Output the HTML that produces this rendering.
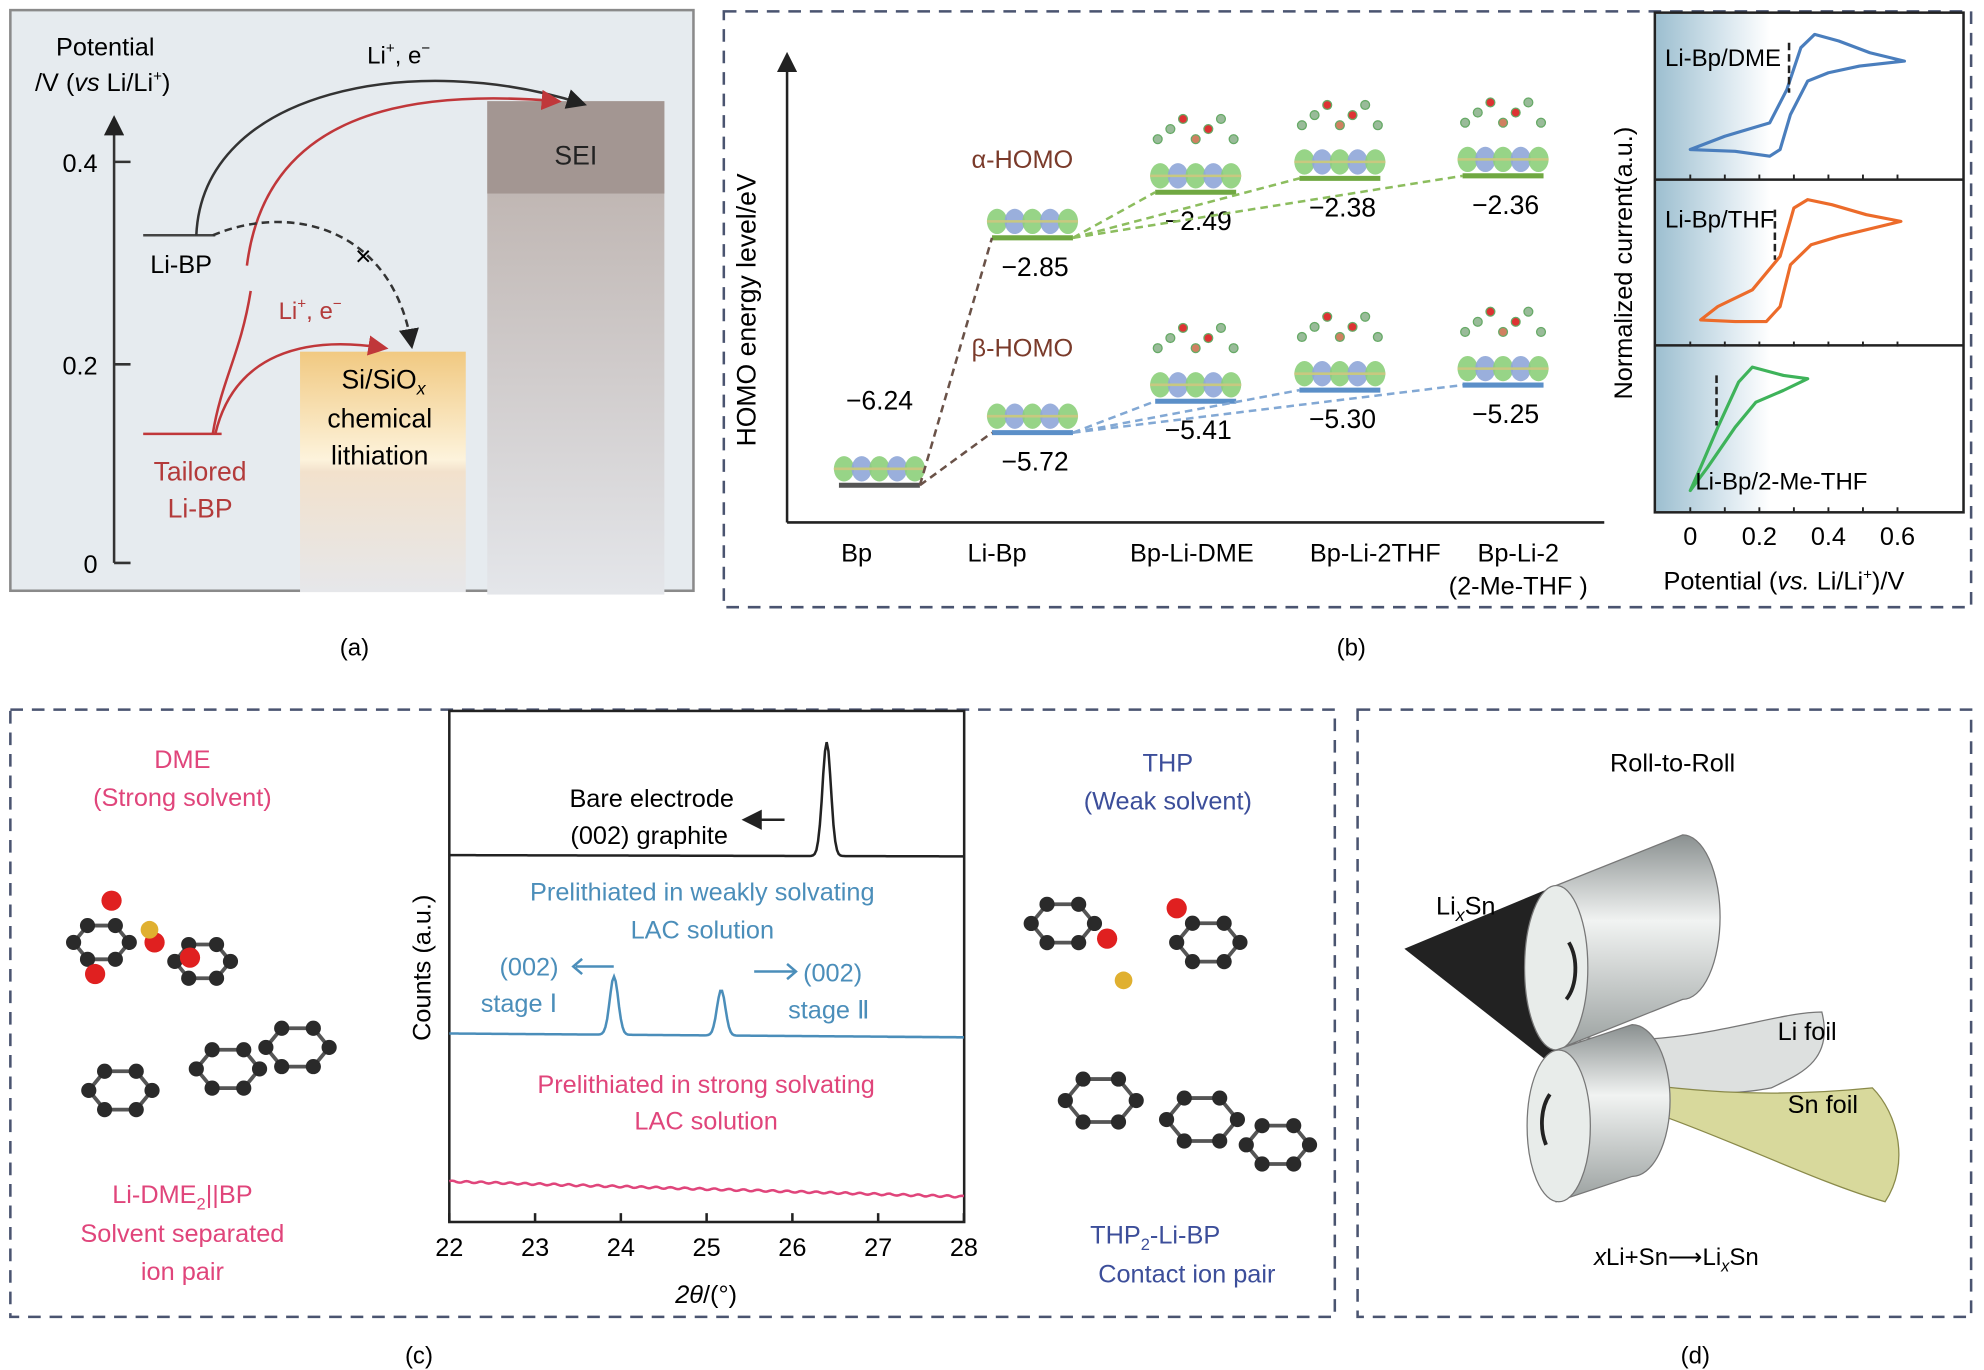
<!DOCTYPE html>
<html><head><meta charset="utf-8"><style>
html,body{margin:0;padding:0;background:#fff}
svg{display:block}
text{font-family:"Liberation Sans",sans-serif}
</style></head><body>
<svg width="1984" height="1370" viewBox="0 0 1568 1083" xmlns="http://www.w3.org/2000/svg">
<defs>
<linearGradient id="gSEI" x1="0" y1="0" x2="0" y2="1"><stop offset="0" stop-color="#b8aca7"/><stop offset="1" stop-color="#e4e6ea"/></linearGradient>
<linearGradient id="gSi" x1="0" y1="0" x2="0" y2="1"><stop offset="0" stop-color="#f1c981"/><stop offset="0.45" stop-color="#fdf3dc"/><stop offset="0.5" stop-color="#f2e1cc"/><stop offset="1" stop-color="#e6e7ea"/></linearGradient>
<linearGradient id="gCV" x1="0" y1="0" x2="1" y2="0"><stop offset="0" stop-color="#9dbfd0"/><stop offset="0.6" stop-color="#d8e6ee"/><stop offset="1" stop-color="#ffffff"/></linearGradient>
<linearGradient id="gRoll" x1="0" y1="0" x2="0" y2="1"><stop offset="0" stop-color="#8a9090"/><stop offset="0.4" stop-color="#f1f3f2"/><stop offset="1" stop-color="#9aa09f"/></linearGradient>
<marker id="arB" markerWidth="8" markerHeight="8" refX="6" refY="4" orient="auto"><path d="M0,0L8,4L0,8z" fill="#222"/></marker>
<marker id="arR" markerWidth="8" markerHeight="8" refX="6" refY="4" orient="auto"><path d="M0,0L8,4L0,8z" fill="#c0373a"/></marker>
</defs>

<!-- Panel a -->
<g>
<rect x="8" y="8" width="540" height="459" fill="#e6ebef" stroke="#8a8a8a" stroke-width="2"/>
<rect x="385" y="80" width="140" height="390" fill="url(#gSEI)"/>
<rect x="385" y="80" width="140" height="73" fill="#a39692"/>
<text x="455" y="130" font-size="21" text-anchor="middle" fill="#222">SEI</text>
<rect x="237" y="278" width="131" height="190" fill="url(#gSi)"/>
<text x="303" y="307" font-size="21" text-anchor="middle">Si/SiO<tspan font-style="italic" font-size="14" dy="5">x</tspan></text>
<text x="300" y="338" font-size="21" text-anchor="middle">chemical</text>
<text x="300" y="367" font-size="21" text-anchor="middle">lithiation</text>
<text x="83" y="44" font-size="20" text-anchor="middle">Potential</text>
<text x="81" y="72" font-size="20" text-anchor="middle">/V (<tspan font-style="italic">vs</tspan> Li/Li<tspan font-size="12" dy="-8">+</tspan><tspan dy="8">)</tspan></text>
<line x1="90" y1="445" x2="90" y2="95" stroke="#333" stroke-width="2" marker-end="url(#arB)"/>
<g stroke="#333" stroke-width="2"><line x1="90" y1="128" x2="103" y2="128"/><line x1="90" y1="288" x2="103" y2="288"/><line x1="90" y1="445" x2="103" y2="445"/></g>
<text x="77" y="136" font-size="20" text-anchor="end">0.4</text>
<text x="77" y="296" font-size="20" text-anchor="end">0.2</text>
<text x="77" y="453" font-size="20" text-anchor="end">0</text>
<line x1="113" y1="186" x2="170" y2="186" stroke="#444" stroke-width="2"/>
<text x="143" y="216" font-size="20" text-anchor="middle">Li-BP</text>
<line x1="113" y1="343" x2="175" y2="343" stroke="#c0373a" stroke-width="2"/>
<text x="158" y="380" font-size="21" text-anchor="middle" fill="#b33a3a">Tailored</text>
<text x="158" y="409" font-size="21" text-anchor="middle" fill="#b33a3a">Li-BP</text>
<path d="M155,186 C160,70 330,40 460,82" fill="none" stroke="#333" stroke-width="2" marker-end="url(#arB)"/>
<text x="315" y="50" font-size="19" text-anchor="middle">Li<tspan font-size="12" dy="-8">+</tspan><tspan dy="8">, e</tspan><tspan font-size="12" dy="-8">−</tspan></text>
<path d="M195,210 C210,90 320,70 440,80" fill="none" stroke="#c0373a" stroke-width="2" marker-end="url(#arR)"/>
<path d="M168,343 C175,300 190,280 198,230" fill="none" stroke="#c0373a" stroke-width="2"/>
<path d="M170,343 C185,280 240,265 303,275" fill="none" stroke="#c0373a" stroke-width="2" marker-end="url(#arR)"/>
<text x="245" y="252" font-size="19" text-anchor="middle" fill="#b33a3a">Li<tspan font-size="12" dy="-8">+</tspan><tspan dy="8">, e</tspan><tspan font-size="12" dy="-8">−</tspan></text>
<path d="M168,186 C230,160 310,180 325,272" fill="none" stroke="#333" stroke-width="2" stroke-dasharray="6,4" marker-end="url(#arB)"/>
<text x="287" y="210" font-size="22" text-anchor="middle">×</text>
</g>
<text x="280" y="518" font-size="19" text-anchor="middle">(a)</text>

<!-- Panel b -->
<g>
<rect x="572" y="9" width="986" height="471" fill="none" stroke="#4a5470" stroke-width="2" stroke-dasharray="10,7"/>
<line x1="622" y1="413" x2="622" y2="45" stroke="#222" stroke-width="2" marker-end="url(#arB)"/>
<line x1="622" y1="413" x2="1268" y2="413" stroke="#222" stroke-width="2"/>
<text transform="translate(597,245) rotate(-90)" font-size="21" text-anchor="middle">HOMO energy level/eV</text>
<text x="677" y="444" font-size="20" text-anchor="middle">Bp</text>
<text x="788" y="444" font-size="20" text-anchor="middle">Li-Bp</text>
<text x="942" y="444" font-size="20" text-anchor="middle">Bp-Li-DME</text>
<text x="1087" y="444" font-size="20" text-anchor="middle">Bp-Li-2THF</text>
<text x="1200" y="444" font-size="20" text-anchor="middle">Bp-Li-2</text>
<text x="1200" y="470" font-size="20" text-anchor="middle">(2-Me-THF )</text>
<text x="808" y="133" font-size="20" text-anchor="middle" fill="#7a3a2a">α-HOMO</text>
<text x="808" y="282" font-size="20" text-anchor="middle" fill="#7a3a2a">β-HOMO</text>
<g id="homo"></g>
<!-- CV -->
<rect x="1309" y="11" width="90" height="393" fill="url(#gCV)"/>
<rect x="1308" y="10" width="244" height="395" fill="none" stroke="#222" stroke-width="2"/>
<line x1="1308" y1="142" x2="1552" y2="142" stroke="#222" stroke-width="2"/>
<line x1="1308" y1="273" x2="1552" y2="273" stroke="#222" stroke-width="2"/>
<g id="cv"></g>
<text x="1316" y="52" font-size="19">Li-Bp/DME</text>
<text x="1316" y="180" font-size="19">Li-Bp/THF</text>
<text x="1340" y="387" font-size="19">Li-Bp/2-Me-THF</text>
<text transform="translate(1290,208) rotate(-90)" font-size="20" text-anchor="middle">Normalized current(a.u.)</text>
<g id="cvticks"></g>
<text x="1410" y="466" font-size="20" text-anchor="middle">Potential (<tspan font-style="italic">vs.</tspan> Li/Li<tspan font-size="12" dy="-8">+</tspan><tspan dy="8">)/V</tspan></text>
</g>
<text x="1068" y="518" font-size="19" text-anchor="middle">(b)</text>

<!-- Panel c -->
<g>
<rect x="8" y="561" width="1047" height="480" fill="none" stroke="#4a5470" stroke-width="2" stroke-dasharray="10,7"/>
<text x="144" y="607" font-size="20" text-anchor="middle" fill="#e0457b">DME</text>
<text x="144" y="637" font-size="20" text-anchor="middle" fill="#e0457b">(Strong solvent)</text>
<text x="144" y="951" font-size="20" text-anchor="middle" fill="#e0457b">Li-DME<tspan font-size="13" dy="5">2</tspan><tspan dy="-5">||BP</tspan></text>
<text x="144" y="982" font-size="20" text-anchor="middle" fill="#e0457b">Solvent separated</text>
<text x="144" y="1012" font-size="20" text-anchor="middle" fill="#e0457b">ion pair</text>
<text x="923" y="610" font-size="20" text-anchor="middle" fill="#3c4e9a">THP</text>
<text x="923" y="640" font-size="20" text-anchor="middle" fill="#3c4e9a">(Weak solvent)</text>
<text x="913" y="983" font-size="20" text-anchor="middle" fill="#3c4e9a">THP<tspan font-size="13" dy="5">2</tspan><tspan dy="-5">-Li-BP</tspan></text>
<text x="938" y="1014" font-size="20" text-anchor="middle" fill="#3c4e9a">Contact ion pair</text>
<g id="mols"></g>
<rect x="355" y="562" width="407" height="404" fill="none" stroke="#222" stroke-width="2"/>
<g id="xrd"></g>
<text transform="translate(340,765) rotate(-90)" font-size="20" text-anchor="middle">Counts (a.u.)</text>
<text x="558" y="1030" font-size="20" text-anchor="middle"><tspan font-style="italic">2θ</tspan>/(°)</text>
<text x="515" y="638" font-size="20" text-anchor="middle">Bare electrode</text>
<text x="513" y="667" font-size="20" text-anchor="middle">(002) graphite</text>
<line x1="620" y1="648" x2="590" y2="648" stroke="#222" stroke-width="2" marker-end="url(#arB)"/>
<text x="555" y="712" font-size="20" text-anchor="middle" fill="#4b8eba">Prelithiated in weakly solvating</text>
<text x="555" y="742" font-size="20" text-anchor="middle" fill="#4b8eba">LAC solution</text>
<text x="418" y="771" font-size="20" text-anchor="middle" fill="#4b8eba">(002)</text>
<text x="410" y="800" font-size="20" text-anchor="middle" fill="#4b8eba">stage Ⅰ</text>
<text x="658" y="776" font-size="20" text-anchor="middle" fill="#4b8eba">(002)</text>
<text x="655" y="805" font-size="20" text-anchor="middle" fill="#4b8eba">stage Ⅱ</text>
<line x1="455" y1="764" x2="485" y2="764" stroke="#4b8eba" stroke-width="2"/>
<path d="M460,758L453,764L460,770" fill="none" stroke="#4b8eba" stroke-width="2"/>
<line x1="596" y1="768" x2="628" y2="768" stroke="#4b8eba" stroke-width="2"/>
<path d="M622,762L629,768L622,774" fill="none" stroke="#4b8eba" stroke-width="2"/>
<text x="558" y="864" font-size="20" text-anchor="middle" fill="#e0457b">Prelithiated in strong solvating</text>
<text x="558" y="893" font-size="20" text-anchor="middle" fill="#e0457b">LAC solution</text>
</g>
<text x="331" y="1078" font-size="19" text-anchor="middle">(c)</text>

<!-- Panel d -->
<g>
<rect x="1073" y="561" width="485" height="480" fill="none" stroke="#4a5470" stroke-width="2" stroke-dasharray="10,7"/>
<text x="1322" y="610" font-size="20" text-anchor="middle">Roll-to-Roll</text>
<path d="M1110,750 L1230,700 L1250,860 Z" fill="#222"/>
<path d="M1250,820 C1330,830 1400,800 1440,800 C1450,840 1420,850 1400,860 C1350,870 1290,860 1240,850Z" fill="#dde0df" stroke="#777"/>
<path d="M1240,850 C1320,860 1380,870 1480,860 C1500,880 1510,920 1490,950 C1420,930 1330,880 1240,860Z" fill="#d8d99c" stroke="#8a8a4a"/>
<path d="M1230,700 L1330,660 A25,55 0 0 1 1330,790 L1230,830 Z" fill="url(#gRoll)" stroke="#777"/>
<ellipse cx="1230" cy="765" rx="25" ry="65" fill="#e8ecea" stroke="#777"/>
<path d="M1230,830 L1290,810 A25,50 0 0 1 1290,930 L1230,950 Z" fill="url(#gRoll)" stroke="#777"/>
<ellipse cx="1232" cy="890" rx="25" ry="60" fill="#e8ecea" stroke="#777"/>
<path d="M1240,745 A18,30 0 0 1 1238,790" fill="none" stroke="#222" stroke-width="3"/>
<path d="M1222,905 A18,30 0 0 1 1225,865" fill="none" stroke="#222" stroke-width="3"/>
<text x="1135" y="723" font-size="20">Li<tspan font-style="italic" font-size="14" dy="5">x</tspan><tspan dy="-5">Sn</tspan></text>
<text x="1405" y="822" font-size="20">Li foil</text>
<text x="1413" y="880" font-size="20">Sn foil</text>
<text x="1325" y="1000" font-size="19" text-anchor="middle"><tspan font-style="italic">x</tspan>Li+Sn⟶Li<tspan font-style="italic" font-size="13" dy="5">x</tspan><tspan dy="-5">Sn</tspan></text>
</g>
<text x="1340" y="1078" font-size="19" text-anchor="middle">(d)</text>
</svg>
<script>
const NS='http://www.w3.org/2000/svg';
function mk(p,t,a){const e=document.createElementNS(NS,t);for(const k in a)e.setAttribute(k,a[k]);p.appendChild(e);return e;}
// HOMO data
const homoCats=['Bp','Li-Bp','Bp-Li-DME','Bp-Li-2THF','Bp-Li-2(2-Me-THF)'];
const alphaE=[null,-2.85,-2.49,-2.38,-2.36];
const betaE=[-6.24,-5.72,-5.41,-5.30,-5.25];
function xH(i){return [695,816,945,1059,1188][i];}
function yH(e){return e>-4?188+(-2.85-e)*100:342+(-5.72-e)*80;}
const hg=document.getElementById('homo');
function level(i,e,col,lab){
 const x=xH(i);const y=yH(e);
 for(let k=0;k<5;k++){mk(hg,'ellipse',{cx:x-28+k*14,cy:y-13,rx:8,ry:10,fill:k%2?'#8fa6d8':'#8ccf7a',opacity:0.9});}
 mk(hg,'line',{x1:x-36,x2:x+36,y1:y-13,y2:y-13,stroke:'#c8c880','stroke-width':2});
 if(i>=2){for(let k=0;k<7;k++){mk(hg,'circle',{cx:x-30+k*10,cy:y-42-(k%3)*8,r:3.5,fill:k==3?'#d08060':(k==2||k==4?'#d33':'#9b9'),stroke:'#6a6'});}}
 const l=mk(hg,'line',{x1:x-32,x2:x+32,y1:y,y2:y,stroke:col,'stroke-width':4});
 
 
 const tx=mk(hg,'text',{x:x+(i==0?0:2),y:i==0?y-60:y+30,'font-size':21,'text-anchor':'middle'});tx.textContent=lab;
}
for(let i=0;i<5;i++){ if(alphaE[i]!==null) level(i,alphaE[i],'#70a842',alphaE[i].toFixed(2).replace('-','−'));}
for(let i=0;i<5;i++){ level(i,betaE[i],i==0?'#555':'#5b8fc8',betaE[i].toFixed(2).replace('-','−'));}
function dash(i1,e1,i2,e2,col){mk(hg,'line',{x1:xH(i1)+32,y1:yH(e1),x2:xH(i2)-32,y2:yH(e2),stroke:col,'stroke-width':2,'stroke-dasharray':'6,4'});}
dash(0,betaE[0],1,alphaE[1],'#6a5248');dash(0,betaE[0],1,betaE[1],'#6a5248');
for(let j=2;j<5;j++){dash(1,alphaE[1],j,alphaE[j],'#8cbd5e');dash(1,betaE[1],j,betaE[j],'#82a8d4');}
// CV data
const cvTicks=[0,0.2,0.4,0.6];
const cvColors=['#4a7ebd','#ec6b2a','#3eb35a'];
const dmeV=[0.00,0.13,0.23,0.26,0.29,0.34,0.40,0.49,0.62,0.52,0.43,0.36,0.32,0.28,0.23,0.10];
const dmeI=[0.18,0.17,0.14,0.18,0.39,0.59,0.64,0.68,0.71,0.76,0.83,0.87,0.79,0.54,0.34,0.26];
const thfV=[0.03,0.13,0.22,0.26,0.29,0.35,0.43,0.61,0.51,0.41,0.34,0.30,0.26,0.18,0.08];
const thfI=[0.16,0.15,0.15,0.24,0.49,0.61,0.66,0.75,0.79,0.85,0.88,0.83,0.54,0.34,0.24];
const meV=[0.00,0.05,0.13,0.19,0.27,0.34,0.27,0.18,0.14,0.08,0.03];
const meI=[0.13,0.27,0.51,0.66,0.73,0.80,0.82,0.87,0.78,0.51,0.27];
const cvE12=[0.286,0.245,0.076];
const cvV=[dmeV,thfV,meV];const cvI=[dmeI,thfI,meI];
const rowTop=[10,142,273];const rowH=132;
function xV(v){return 1336+v*273;}
function yI(r,c){return rowTop[r]+(1-c)*rowH;}
const cg=document.getElementById('cv');
cvTicks.forEach(v=>{const tt=mk(document.getElementById('cvticks'),'text',{x:xV(v),y:431,'font-size':20,'text-anchor':'middle'});tt.textContent=v;});
[0,1,2].forEach(r=>cvTicks.concat([0.1,0.3,0.5]).forEach(v=>mk(cg,'line',{x1:xV(v),x2:xV(v),y1:rowTop[r]+rowH,y2:rowTop[r]+rowH-4,stroke:'#222','stroke-width':1.5})));
for(let r=0;r<3;r++){
 let d='';cvV[r].forEach((v,k)=>{d+=(k?'L':'M')+xV(v).toFixed(1)+','+yI(r,cvI[r][k]).toFixed(1);});d+='Z';
 const p=mk(cg,'path',{d:d,fill:'none',stroke:cvColors[r],'stroke-width':2.5,'stroke-linejoin':'round'});
 
 
 mk(cg,'line',{x1:xV(cvE12[r]),x2:xV(cvE12[r]),y1:yI(r,0.82),y2:yI(r,0.52),stroke:'#222','stroke-width':2,'stroke-dasharray':'6,3'});
}
// XRD
const xrdTicks=[22,23,24,25,26,27,28];
const bareCenters=[26.4];const bareHeights=[90];
const weakCenters=[23.92,25.17];const weakHeights=[46,36];
const xrdBase=[676,817,934];
const xrdSlope=[1,3,12];
function xT(v){return 355+(v-22)*67.8;}
const xg=document.getElementById('xrd');
xrdTicks.forEach(v=>{mk(xg,'line',{x1:xT(v),x2:xT(v),y1:966,y2:959,stroke:'#222','stroke-width':2});
 const tt=mk(xg,'text',{x:xT(v),y:993,'font-size':20,'text-anchor':'middle'});tt.textContent=v;});
function curve(s,cs,hs,col,noise){let d='';for(let v=22;v<=28.001;v+=0.02){let y=xrdBase[s]+xrdSlope[s]*(v-22)/6;cs.forEach((c,i)=>{y-=hs[i]*Math.exp(-Math.pow((v-c)/0.07,2));});if(noise)y+=Math.sin(v*37)*0.7;d+=(d?'L':'M')+xT(v).toFixed(1)+','+y.toFixed(1);}
 const p=mk(xg,'path',{d:d,fill:'none',stroke:col,'stroke-width':2});
 
 }
curve(0,bareCenters,bareHeights,'#222',false);
curve(1,weakCenters,weakHeights,'#4b8eba',false);
curve(2,[],[],'#e0457b',true);
// molecules (decorative)
const mg=document.getElementById('mols');
function ring(cx,cy,r){const pts=[];for(let k=0;k<6;k++){const a=k*Math.PI/3;pts.push([cx+r*Math.cos(a),cy+r*Math.sin(a)*0.7]);}
 pts.forEach((p,k)=>{const q=pts[(k+1)%6];mk(mg,'line',{x1:p[0],y1:p[1],x2:q[0],y2:q[1],stroke:'#555','stroke-width':3});});
 pts.forEach(p=>mk(mg,'circle',{cx:p[0],cy:p[1],r:6,fill:'#2a2a2a'}));}
ring(95,862,25);ring(180,845,25);ring(235,828,25);
ring(80,745,22);ring(160,760,22);
[[88,712],[75,770],[150,757],[122,745]].forEach(p=>mk(mg,'circle',{cx:p[0],cy:p[1],r:8,fill:'#e02020'}));
mk(mg,'circle',{cx:118,cy:735,r:7,fill:'#e0b030'});
ring(840,730,25);ring(955,745,25);ring(870,870,28);ring(950,885,28);ring(1010,905,25);
[[875,742],[930,718]].forEach(p=>mk(mg,'circle',{cx:p[0],cy:p[1],r:8,fill:'#e02020'}));
mk(mg,'circle',{cx:888,cy:775,r:7,fill:'#e0b030'});
</script>
</body></html>
